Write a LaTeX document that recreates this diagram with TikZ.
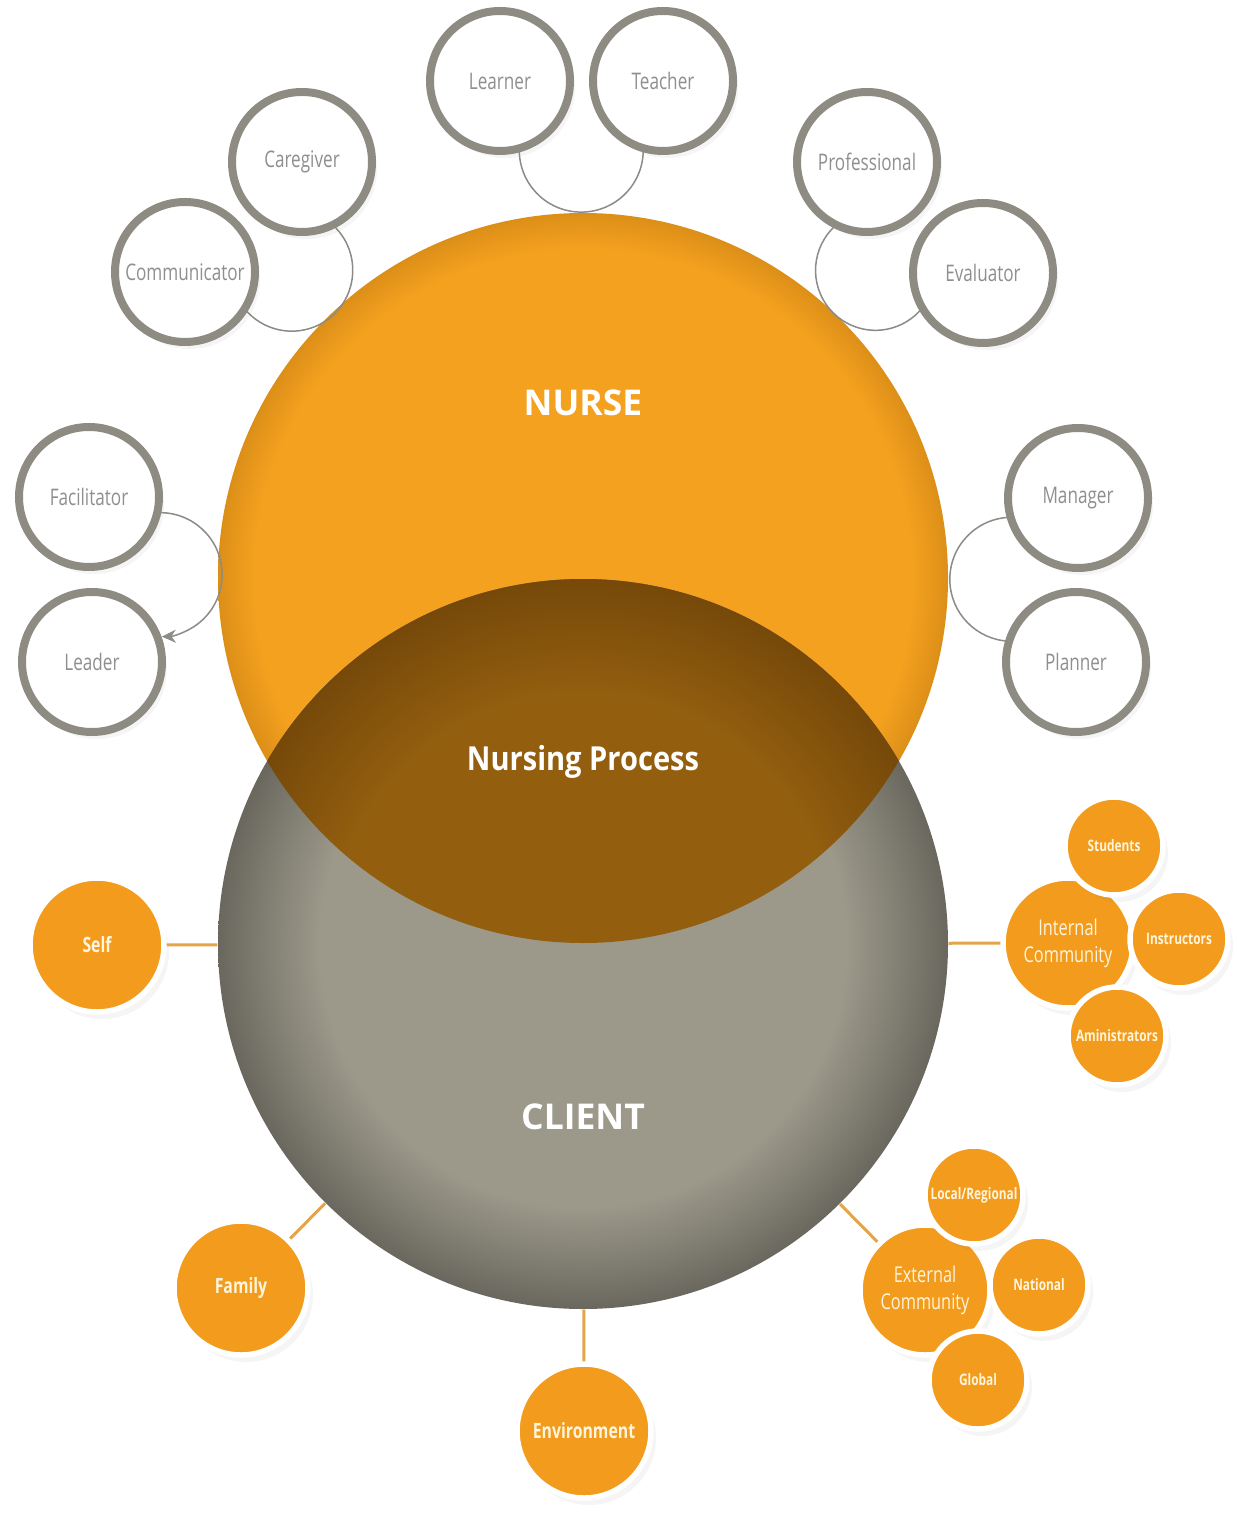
\documentclass[tikz,border=0pt]{standalone}
\usepackage{fontspec}
\usetikzlibrary{arrows.meta,shadows}

\newfontfamily\headfont{Open Sans}
\newfontfamily\procfont[FakeStretch=0.88]{Open Sans}
\newfontfamily\rolefont[FakeStretch=0.75]{Open Sans}

\definecolor{nurseorange}{HTML}{F4A11F}
\definecolor{nurserim}{HTML}{DC8F18}
\definecolor{clientin}{HTML}{9C998B}
\definecolor{clientrim}{HTML}{6A675E}
\definecolor{lensin}{HTML}{935F0F}
\definecolor{lensrim}{HTML}{76490A}
\definecolor{ringgray}{HTML}{8E8B82}
\definecolor{rolegray}{HTML}{8F8F8F}
\definecolor{linkgray}{HTML}{8C8B86}
\definecolor{dotorange}{HTML}{F29B1D}
\definecolor{tieorange}{HTML}{E3A548}
\definecolor{creamtext}{HTML}{FFF5DC}

% radial shadings: 25bp is the rim of the circle
\pgfdeclareradialshading{nurseshade}{\pgfpoint{0bp}{0bp}}{color(0bp)=(nurseorange); color(22.5bp)=(nurseorange); color(25bp)=(nurserim); color(50bp)=(nurserim)}
\pgfdeclareradialshading{clientshade}{\pgfpoint{0bp}{0bp}}{color(0bp)=(clientin); color(18bp)=(clientin); color(25bp)=(clientrim); color(50bp)=(clientrim)}
\pgfdeclareradialshading{lensshade}{\pgfpoint{0bp}{0bp}}{color(0bp)=(lensin); color(17bp)=(lensin); color(25bp)=(lensrim); color(50bp)=(lensrim)}

\tikzset{
  soft/.style={drop shadow={opacity=0.08, shadow xshift=0.5mm, shadow yshift=-0.7mm}},
  role/.style={circle, draw=ringgray, line width=0.8mm, fill=white, minimum size=14mm, soft,
    inner sep=0pt, outer sep=0pt, text=rolegray, font=\rolefont\fontsize{6.5}{7}\selectfont},
  group/.style={circle, draw=white, line width=0.55mm, fill=dotorange, minimum size=13.4mm, soft,
    inner sep=0pt, text=creamtext, align=center, font=\rolefont\bfseries\fontsize{6}{7}\selectfont},
  community/.style={group, minimum size=13mm, font=\rolefont\fontsize{6.2}{7.6}\selectfont},
  subgroup/.style={group, minimum size=9.8mm, font=\rolefont\bfseries\fontsize{4.5}{5}\selectfont},
  bigdisc/.style={circle, minimum size=73mm, inner sep=0pt},
  title/.style={text=white, font=\headfont\bfseries\fontsize{10.1}{12}\selectfont},
  link/.style={draw=linkgray, line width=0.15mm},
  tie/.style={draw=tieorange, line width=0.3mm},
}

\begin{document}
\begin{tikzpicture}[x=0.1mm,y=0.1mm]
\fill[white] (0,0) rectangle (1238,-1515);

% nurse and client
\node[bigdisc, shade, shading=nurseshade] (nurse) at (583,-578) {};
\node[bigdisc, shade, shading=clientshade] (client) at (583,-944) {};
\begin{scope}
  \clip (583,-578) circle (365);
  \shade[shading=lensshade] (583,-944) circle (365);
\end{scope}

\node[title] (nursetxt) at (583,-403) {NURSE};
\node[title, font=\procfont\bfseries\fontsize{9.4}{11}\selectfont] (proctxt) at (583,-762) {Nursing Process};
\node[title] (clienttxt) at (583,-1117) {CLIENT};

% roles of the nurse
\foreach \nm/\x/\y/\txt in {learner/500/81/Learner, teacher/663/81/Teacher,
    caregiver/302/162/Caregiver, communicator/185/272/Communicator,
    professional/867/162/Professional, evaluator/983/273/Evaluator,
    facilitator/89/497/Facilitator, leader/92/662/Leader,
    manager/1078/498/Manager, planner/1076/662/Planner}
  \node[role] (\nm) at (\x,-\y) {\txt};

\draw[link] (learner.-74) arc[start angle=-181.7, end angle=1.7, radius=62];
\draw[link] (caregiver.-64) arc[start angle=47.9, end angle=-140.8, radius=61];
\draw[link] (professional.-116.5) arc[start angle=130.8, end angle=321.5, radius=60];
\draw[link] (manager.196.5) arc[start angle=91, end angle=267.2, radius=62];
\draw[link, -{Stealth[length=1.4mm, width=1.3mm]}] (facilitator.-13) arc[start angle=92.7, end angle=-88.4, radius=62];

% clients
\node[group] (self) at (97,-945) {Self};
\node[group] (family) at (241,-1288) {Family};
\node[group] (environment) at (584,-1431) {Environment};

\node[community] (internal) at (1068,-943) {Internal\\Community};
\node[subgroup] (students) at (1114,-846) {Students};
\node[subgroup] (instructors) at (1179,-939) {Instructors};
\node[subgroup] (administrators) at (1117,-1036) {Aministrators};

\node[community] (external) at (925,-1290) {External\\Community};
\node[subgroup] (localreg) at (974,-1195) {Local/Regional};
\node[subgroup] (national) at (1039,-1285) {National};
\node[subgroup] (global) at (978,-1380) {Global};

\foreach \grp in {self, family, environment, internal, external}
  \draw[tie] (client) -- (\grp);
\end{tikzpicture}
\end{document}
